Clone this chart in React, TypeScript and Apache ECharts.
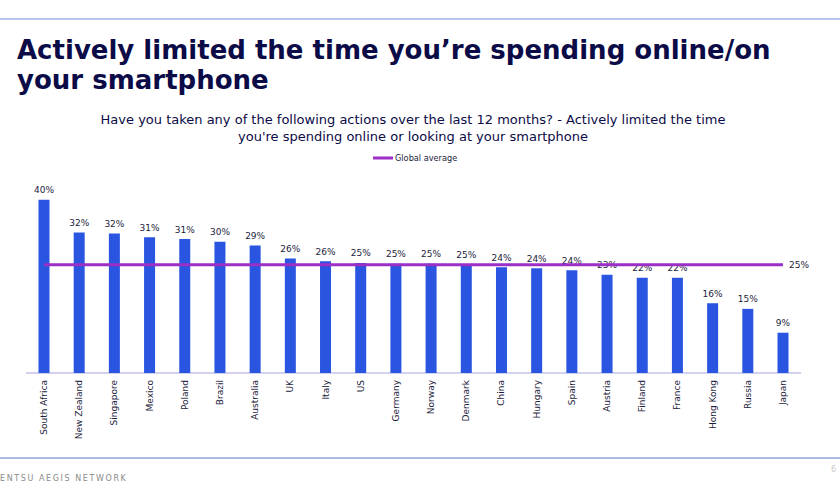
import React, { useEffect, useRef } from "react";
import * as echarts from "echarts";

const categories = [
  "South Africa", "New Zealand", "Singapore", "Mexico", "Poland", "Brazil",
  "Australia", "UK", "Italy", "US", "Germany", "Norway", "Denmark", "China",
  "Hungary", "Spain", "Austria", "Finland", "France", "Hong Kong", "Russia", "Japan",
];
const countryValues = [
  40.0, 32.4, 32.2, 31.3, 30.9, 30.3, 29.4, 26.4, 25.8, 25.4, 25.2, 25.2, 25.1,
  24.4, 24.2, 23.7, 22.7, 22.0, 22.0, 16.1, 14.8, 9.3,
];
const globalAverage = 25;
const globalAverageValues = categories.map(() => globalAverage);

const titleText = "Actively limited the time you\u2019re spending online/on\nyour smartphone";
const subtitleText =
  "Have you taken any of the following actions over the last 12 months? - Actively limited the time\nyou're spending online or looking at your smartphone";
const footerText = "ENTSU AEGIS NETWORK";
const pageNumber = "6";

const NAVY = "#0b0b47";
const TEXT = "#1c1c3c";
const BAR = "#2a55e0";
const PURPLE = "#9b2fc6";
const FONT = "DejaVu Sans";

export default function App() {
  const ref = useRef<HTMLDivElement>(null);
  useEffect(() => {
    if (!ref.current) return;
    const chart = echarts.init(ref.current, null, { renderer: "svg" });
    chart.setOption({
      animation: false,
      backgroundColor: "#ffffff",
      textStyle: { fontFamily: FONT },
      legend: {
        data: [{ name: "Global average", icon: "rect" }],
        left: 373,
        top: 154,
        padding: 0,
        itemWidth: 20,
        itemHeight: 3,
        itemGap: 2,
        textStyle: { fontSize: 8.2, color: TEXT, fontFamily: FONT, padding: [0, 0, 0, -3] },
      },
      grid: { left: 26.4, right: 39.4, top: 178, bottom: 127, containLabel: false },
      xAxis: {
        type: "category",
        data: categories,
        axisLine: { lineStyle: { color: "#c3c3ec", width: 1.5 } },
        axisTick: { show: false },
        axisLabel: {
          rotate: 90,
          interval: 0,
          fontSize: 9,
          color: TEXT,
          fontFamily: FONT,
          margin: 7,
        },
      },
      yAxis: {
        type: "value",
        min: 0,
        max: 45,
        show: false,
        splitLine: { show: false },
      },
      series: [
        {
          name: "Countries",
          type: "bar",
          data: countryValues,
          barWidth: 11,
          itemStyle: { color: BAR },
          label: {
            show: true,
            position: "top",
            distance: 5,
            fontSize: 9,
            color: TEXT,
            fontFamily: FONT,
            formatter: (p: any) => Math.round(p.value) + "%",
          },
          z: 2,
        },
        {
          name: "Global average",
          type: "line",
          data: globalAverageValues,
          symbol: "none",
          lineStyle: { color: PURPLE, width: 3 },
          itemStyle: { color: PURPLE },
          z: 3,
          endLabel: {
            show: true,
            distance: 6,
            fontSize: 9,
            color: TEXT,
            fontFamily: FONT,
            formatter: (p: any) => p.value + "%",
          },
        },
      ],
      graphic: [
        {
          type: "line",
          shape: { x1: 0, y1: 19, x2: 840, y2: 19 },
          style: { stroke: "#9fb3e3", lineWidth: 1.5 },
        },
        {
          type: "text",
          x: 17,
          y: 35,
          style: {
            text: titleText,
            fontSize: 26,
            fontWeight: "bold",
            fontFamily: FONT,
            fill: NAVY,
            lineHeight: 30,
            textVerticalAlign: "top",
          },
        },
        {
          type: "text",
          x: 413,
          y: 111,
          style: {
            text: subtitleText,
            fontSize: 13,
            fontFamily: FONT,
            fill: NAVY,
            lineHeight: 17,
            textAlign: "center",
            textVerticalAlign: "top",
          },
        },
        {
          type: "line",
          shape: { x1: 0, y1: 458, x2: 840, y2: 458 },
          style: { stroke: "#8fa3d8", lineWidth: 1.5 },
        },
        {
          type: "text",
          x: 0,
          y: 474,
          style: {
            text: footerText.split("").join("\u2009"),
            fontSize: 8,
            fontFamily: FONT,
            fill: "#8a8a8a",
            textVerticalAlign: "top",
          },
        },
        {
          type: "text",
          x: 831,
          y: 465,
          style: {
            text: pageNumber,
            fontSize: 8,
            fontFamily: FONT,
            fill: "#c8c8c8",
            textVerticalAlign: "top",
          },
        },
      ],
    });
    return () => chart.dispose();
  }, []);
  return (
    <div
      ref={ref}
      style={{ position: "fixed", left: 0, top: 0, width: 840, height: 500 }}
    />
  );
}
